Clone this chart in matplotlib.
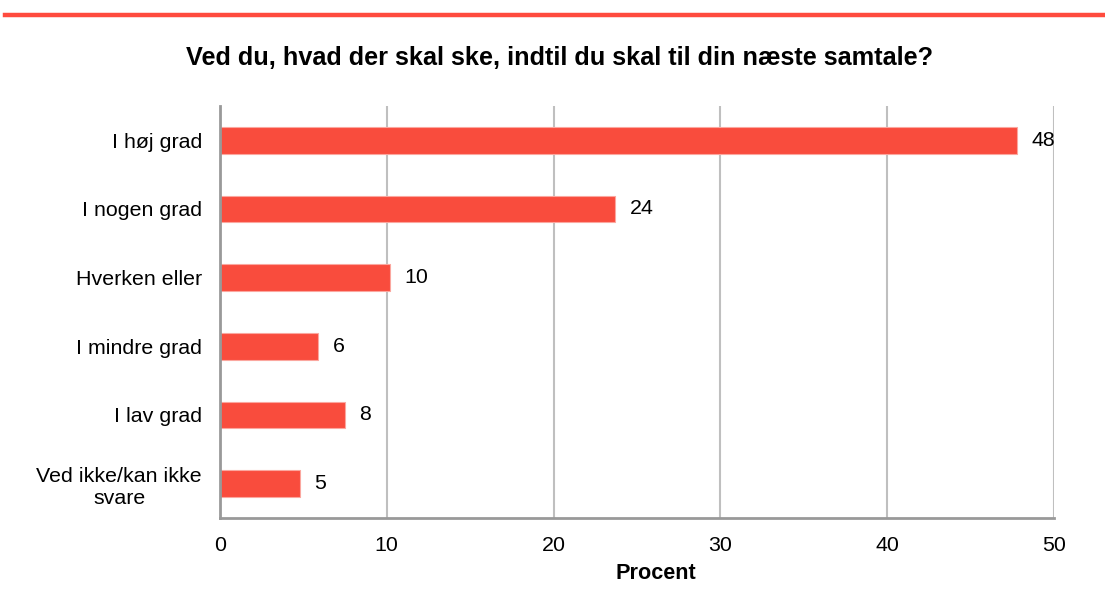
import matplotlib.pyplot as plt
from matplotlib.lines import Line2D

plt.rcParams['font.family'] = ['Liberation Sans', 'DejaVu Sans']

# data
categories = ['I høj grad', 'I nogen grad', 'Hverken eller', 'I mindre grad',
              'I lav grad', 'Ved ikke/kan ikke\nsvare']
values = [47.8, 23.7, 10.2, 5.9, 7.5, 4.8]
labels = ['48', '24', '10', '6', '8', '5']
xticks = [0, 10, 20, 30, 40, 50]

red = '#F94C3D'
fs = 15.4

fig = plt.figure(figsize=(11.05, 5.9), dpi=100)
ax = fig.add_axes([220 / 1105, 1 - 518 / 590, 834 / 1105, 412 / 590])

# red rule at the top of the figure
fig.add_artist(Line2D([5 / 1105, 1], [1 - 15 / 590, 1 - 15 / 590],
                      transform=fig.transFigure, color='#FF4B3E', lw=3.2))

pos = list(range(len(categories)))
ax.barh(pos, values, height=0.39, color=red, edgecolor='#FBA79F', linewidth=0.8, zorder=3)
for p, v, t in zip(pos, values, labels):
    ax.text(v + 0.85, p, t, va='center', ha='left', fontsize=fs, color='black', zorder=4)

ax.set_ylim(5.5, -0.5)
ax.set_xlim(0, 50)
ax.set_xticks(xticks)
ax.set_yticks(pos)
ax.set_yticklabels(categories, fontsize=fs, multialignment='center')
ax.tick_params(axis='both', length=0, labelsize=fs)
ax.tick_params(axis='y', pad=13)
ax.tick_params(axis='x', pad=13)

ax.grid(axis='x', color='#BFBFBF', lw=1.5, zorder=0)
for s in ['top', 'right']:
    ax.spines[s].set_visible(False)
for s in ['left', 'bottom']:
    ax.spines[s].set_color('#999999')
    ax.spines[s].set_linewidth(2)
    ax.spines[s].set_zorder(5)

ax.set_xlabel('Procent', fontsize=15.6, fontweight='bold')
ax.xaxis.set_label_coords(0.523, -0.134)
ax.xaxis.label.set_va('center')
fig.text(0.506, 1 - 58 / 590, 'Ved du, hvad der skal ske, indtil du skal til din næste samtale?',
         ha='center', va='center', fontsize=18.2, fontweight='bold')

fig.savefig('out.png', dpi=100)
